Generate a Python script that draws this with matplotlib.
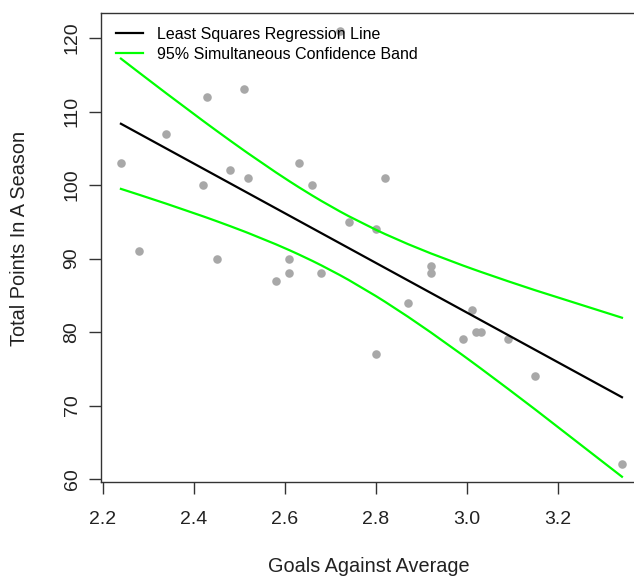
import numpy as np
import matplotlib
matplotlib.use("Agg")
import matplotlib.pyplot as plt
from matplotlib.lines import Line2D

plt.rcParams['font.family'] = ['Liberation Sans', 'DejaVu Sans']

gaa = [2.24, 2.28, 2.34, 2.42, 2.43, 2.45, 2.48, 2.51, 2.52, 2.58,
       2.61, 2.61, 2.63, 2.66, 2.68, 2.72, 2.74, 2.80, 2.80, 2.82,
       2.87, 2.92, 2.92, 2.99, 3.01, 3.02, 3.03, 3.09, 3.15, 3.34]
points = [103, 91, 107, 100, 112, 90, 102, 113, 101, 87,
          90, 88, 103, 100, 88, 121, 95, 94, 77, 101,
          84, 89, 88, 79, 83, 80, 80, 79, 74, 62]
f_crit = 3.34  # F(0.95; 2, 28)

x = np.array(gaa)
y = np.array(points)
n = len(x)
b1, b0 = np.polyfit(x, y, 1)
xs = np.sort(x)
fit = b0 + b1 * xs
resid = y - (b0 + b1 * x)
s = np.sqrt(np.sum(resid ** 2) / (n - 2))
sxx = np.sum((x - x.mean()) ** 2)
W = np.sqrt(2 * f_crit)
half = W * s * np.sqrt(1.0 / n + (xs - x.mean()) ** 2 / sxx)

fig = plt.figure(figsize=(6.34, 5.78), dpi=100)
ax = fig.add_axes([100.7 / 634, 96 / 578, (642 - 100.7) / 634, (482 - 13) / 578])

ax.scatter(x, y, s=38, color='#A8A8A8', zorder=3, linewidths=0)
ax.plot(xs, fit, color='black', lw=1.6, zorder=4)
ax.plot(xs, fit + half, color='#00FF00', lw=1.6, zorder=4)
ax.plot(xs, fit - half, color='#00FF00', lw=1.6, zorder=4)

ax.set_xlim(2.1956, 3.384)
ax.set_ylim(59.6, 123.4)
ax.set_xticks([2.2, 2.4, 2.6, 2.8, 3.0, 3.2])
ax.set_xticklabels(['2.2', '2.4', '2.6', '2.8', '3.0', '3.2'])
ax.set_yticks([60, 70, 80, 90, 100, 110, 120])
ax.set_yticklabels(['60', '70', '80', '90', '100', '110', '120'], rotation=90, va='center')
ax.tick_params(direction='out', length=8.5, width=1.0, colors='#333333', labelsize=14,
               labelcolor='#222222')
ax.tick_params(axis='x', pad=12.5)
ax.tick_params(axis='y', pad=6)
for sp in ax.spines.values():
    sp.set_color('#333333')
    sp.set_linewidth(1.0)

fig.text(369 / 634, 1 - 566 / 578, 'Goals Against Average', ha='center', va='center',
         fontsize=14.3, color='#222222')
fig.text(20 / 634, 1 - 238 / 578, 'Total Points In A Season', ha='center', va='center',
         rotation=90, fontsize=14.3, color='#222222')

handles = [Line2D([0], [0], color='black', lw=1.6),
           Line2D([0], [0], color='#00FF00', lw=1.6)]
leg = ax.legend(handles, ['Least Squares Regression Line', '95% Simultaneous Confidence Band'],
                loc='upper left', frameon=False, fontsize=11.5, handlelength=1.7,
                handletextpad=0.85, labelspacing=0.32, borderaxespad=0, borderpad=0,
                bbox_to_anchor=(15.3 / 541.3, 1 - 13.5 / 469))

fig.savefig('out.png', dpi=100)
